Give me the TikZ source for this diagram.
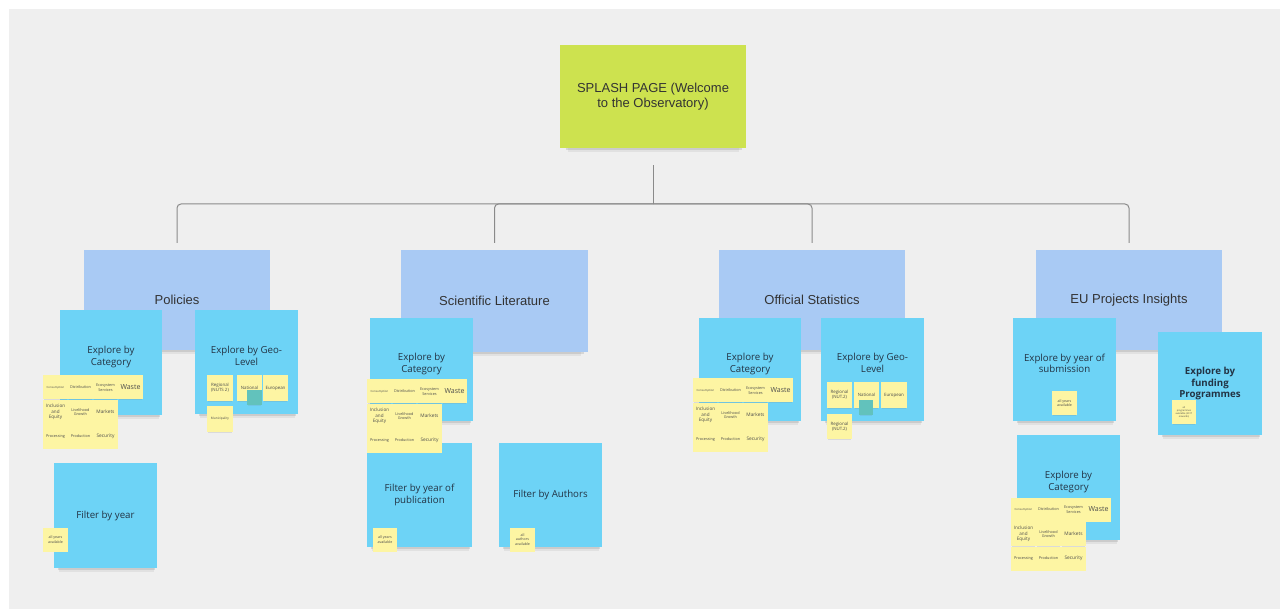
\documentclass[tikz,border=0pt]{standalone}
\usepackage{fontspec}
\setmainfont{Open Sans}
\newfontfamily\arialfont{Liberation Sans}
\usepackage{xcolor}
\definecolor{canvas}{HTML}{EFEFEF}
\definecolor{lime}{HTML}{CDE24F}
\definecolor{headblue}{HTML}{A9CAF4}
\definecolor{skyblue}{HTML}{6DD3F6}
\definecolor{paleyellow}{HTML}{FDF5A3}
\definecolor{tealnote}{HTML}{62C2BC}
\definecolor{ink}{HTML}{233445}
\definecolor{treeline}{HTML}{8A8A8A}
\usetikzlibrary{shadows}
% grid of ten category stickers, top left corner at (#1,#2)
\newcommand{\catgrid}[3]{%
  \node[tinynote, font=\fontsize{2.8}{3.3}\selectfont] (#3-cons) at (#1+12.5,#2+12.5) {Consumption};
  \node[tinynote] (#3-dist) at (#1+37.5,#2+12.5) {Distribution};
  \node[tinynote] (#3-eco) at (#1+62.5,#2+12.5) {Ecosystem\\Services};
  \node[tinynote, font=\fontsize{7}{8}\selectfont] (#3-waste) at (#1+87.5,#2+12.5) {Waste};
  \node[tinynote, font=\fontsize{4.6}{5.6}\selectfont] (#3-incl) at (#1+12.5,#2+37) {Inclusion\\and\\Equity};
  \node[tinynote] (#3-live) at (#1+37.5,#2+37) {Livelihood\\Growth};
  \node[tinynote, font=\fontsize{4.8}{5.6}\selectfont] (#3-mark) at (#1+62.5,#2+37) {Markets};
  \node[tinynote] (#3-proc) at (#1+12.5,#2+61.5) {Processing};
  \node[tinynote] (#3-prod) at (#1+37.5,#2+61.5) {Production};
  \node[tinynote, font=\fontsize{4.8}{5.6}\selectfont] (#3-secu) at (#1+62.5,#2+61.5) {Security};
}

\begin{document}
\begin{tikzpicture}[
  x=1pt, y=-1pt,
  softshadow/.style={
    drop shadow={opacity=0.12, shadow xshift=1pt, shadow yshift=-9pt, shadow scale=0.92},
    drop shadow={opacity=0.22, shadow xshift=1pt, shadow yshift=-5pt, shadow scale=0.95}},
  splashnote/.style={softshadow, fill=lime, minimum width=186pt, minimum height=103pt,
    align=center, text=black!80, font=\arialfont\fontsize{13}{15.5}\selectfont},
  headnote/.style={softshadow, fill=headblue, minimum width=186pt, minimum height=100pt,
    align=center, text=black!80, font=\arialfont\fontsize{13}{15.5}\selectfont},
  stickynote/.style={softshadow, fill=skyblue, minimum width=103pt, minimum height=104pt,
    align=center, text=ink, font=\fontsize{9.7}{11.7}\selectfont},
  tinynote/.style={fill=paleyellow, minimum width=24.5pt, minimum height=24pt,
    inner sep=0.3pt, align=center, text=black!70, font=\fontsize{3.8}{4.6}\selectfont,
    drop shadow={opacity=0.18, shadow xshift=0pt, shadow yshift=-2pt, shadow scale=0.92}},
  geonote/.style={tinynote, minimum width=25.5pt, minimum height=25.5pt,
    font=\fontsize{4.4}{5.2}\selectfont},
  tealtag/.style={fill=tealnote, minimum width=15pt, minimum height=15pt, inner sep=0pt,
    drop shadow={opacity=0.15, shadow xshift=0pt, shadow yshift=-1.5pt, shadow scale=0.9}},
  tree/.style={draw=treeline, line width=1pt, rounded corners=4pt}
]
\useasboundingbox (0,0) rectangle (1280,609);
\fill[white] (0,0) rectangle (1280,609);
\fill[canvas] (9,9) rectangle (1280,609);

% top of the tree
\node[splashnote] (splash) at (653,96.5) {SPLASH PAGE (Welcome\\to the Observatory)};
\coordinate (hub) at (653,204);

\node[headnote] (pol) at (177,300) {Policies};
\node[headnote, minimum width=187pt, minimum height=102pt] (sci) at (494.5,301) {Scientific Literature};
\node[headnote] (off) at (812,300) {Official Statistics};
\node[headnote] (eu) at (1129,300) {EU Projects Insights};

\draw[tree, shorten <=17pt] (splash.south) -- (hub);
\draw[tree, shorten >=7pt] (hub) -| (pol.north);
\draw[tree, shorten >=7pt] (hub) -| (sci.north);
\draw[tree, shorten >=7pt] (hub) -| (off.north);
\draw[tree, shorten >=7pt] (hub) -| (eu.north);

% Policies
\node[stickynote, minimum width=102pt, minimum height=105pt] (polcat) at (111,362.5) {Explore by\\Category\\[1pt]};
\node[stickynote] (polgeo) at (246.5,362) {Explore by Geo-\\Level\\[1pt]};
\node[stickynote, minimum height=105pt] (polyear) at (105.5,515.5) {Filter by year};
\catgrid{43}{375}{polgrid}
\node[geonote] (polreg) at (220,388) {Regional\\(NUTS 2)};
\node[geonote] (polnat) at (249.5,388) {National};
\node[geonote] (poleur) at (275.5,388) {European};
\node[geonote, font=\fontsize{3.2}{4}\selectfont] (polmun) at (220,419) {Municipality};
\node[tealtag] (polteal) at (254.5,398) {};
\node[tinynote, font=\fontsize{3.6}{4.3}\selectfont] (polyearall) at (55.5,539.5) {all years\\available};

% Scientific Literature
\node[stickynote, minimum height=103pt] (scicat) at (421.5,369.5) {Explore by\\Category\\[1pt]};
\node[stickynote, minimum width=105pt] (sciyear) at (419.5,495) {Filter by year of\\publication};
\node[stickynote] (sciauth) at (550.5,495) {Filter by Authors};
\catgrid{367}{379}{scigrid}
\node[tinynote, font=\fontsize{3.6}{4.3}\selectfont] (sciyearall) at (385,539.5) {all years\\available};
\node[tinynote, font=\fontsize{3.6}{4.3}\selectfont] (sciauthall) at (522.5,539.5) {all\\authors\\available};

% Official Statistics
\node[stickynote, minimum width=102pt, minimum height=103pt] (offcat) at (750,369.5) {Explore by\\Category\\[1pt]};
\node[stickynote, minimum height=103pt] (offgeo) at (872.5,369.5) {Explore by Geo-\\Level\\[1pt]};
\catgrid{693}{378}{offgrid}
\node[geonote] (offreg) at (839.5,395) {Regional\\(NUT.2)};
\node[geonote] (offnat) at (866.5,395) {National};
\node[geonote] (offeur) at (894,395) {European};
\node[geonote] (offreg2) at (839.5,426.5) {Regional\\(NUT.2)};
\node[tealtag, minimum width=14pt] (offteal) at (866,407.5) {};

% EU Projects Insights
\node[stickynote, minimum height=103pt] (eusub) at (1064.5,369.5) {Explore by year of\\submission\\[1pt]};
\node[stickynote, minimum width=104pt, minimum height=103pt, font=\bfseries\fontsize{9.7}{11.7}\selectfont] (eufund) at (1210,383.5) {Explore by\\funding\\Programmes};
\node[stickynote, minimum height=105pt] (eucat) at (1068.5,487.5) {Explore by\\Category\\[1pt]};
\catgrid{1011}{497}{eugrid}
\node[tinynote, font=\fontsize{3.6}{4.3}\selectfont] (eusuball) at (1064.5,403) {all years\\available};
\node[tinynote, font=\fontsize{2.4}{2.9}\selectfont] (eufundall) at (1184,412.5) {all\\programmes\\available (2017\\onwards)};
\end{tikzpicture}
\end{document}
